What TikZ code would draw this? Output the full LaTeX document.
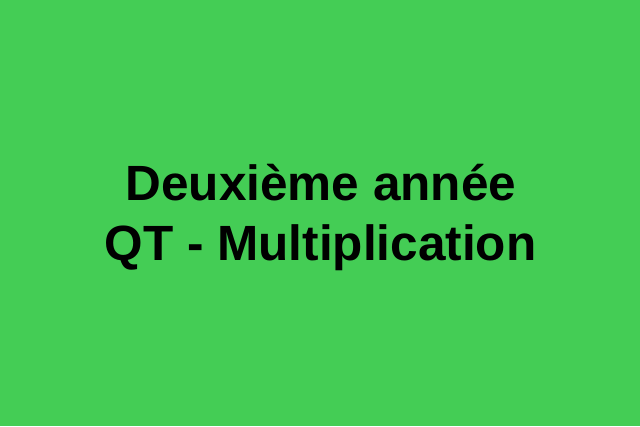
\documentclass[tikz,border=0pt]{standalone}
\usepackage{fontspec}
\setmainfont{Liberation Sans}
\definecolor{bggreen}{HTML}{44CD55}
\tikzset{titletext/.style={anchor=base,font=\bfseries\fontsize{49.5}{60}\selectfont,text=black,inner sep=0pt}}
\begin{document}
\begin{tikzpicture}[x=1pt,y=1pt]
\fill[bggreen] (0,0) rectangle (640,426);
\useasboundingbox (0,0) rectangle (640,426);
\node[titletext] (l1) at (321,225) {Deuxième année};
\node[titletext] (l2) at (320.5,165) {QT - Multiplication};
\end{tikzpicture}
\end{document}
